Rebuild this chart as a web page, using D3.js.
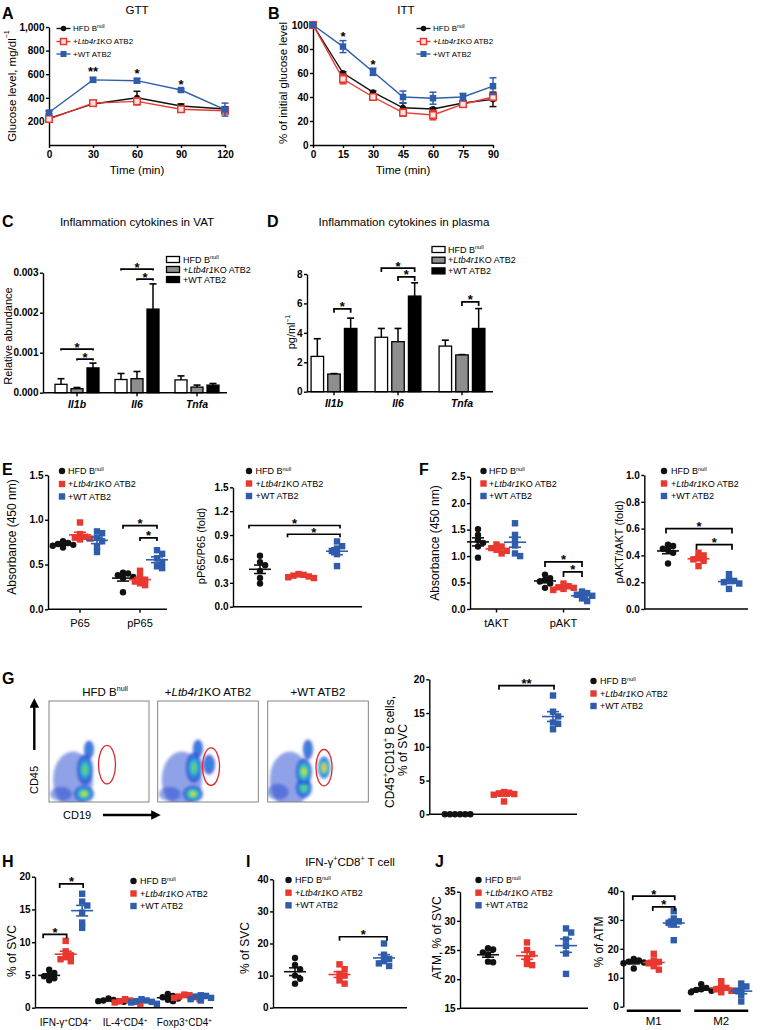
<!DOCTYPE html>
<html><head><meta charset="utf-8">
<script src="https://cdn.jsdelivr.net/npm/d3@7"></script>
<style>body{margin:0;background:#fff} svg{display:block}</style>
</head><body>
<svg id="fig" width="765" height="1030"></svg>
<script>
// ---------------- DATA ----------------
const groupColors = ["#111111", "#e8382f", "#2f5dab"];
const legendLabels = [
  [{t:"HFD B"},{t:"null",sup:true}],
  [{t:"+"},{t:"Ltb4r1",it:true},{t:"KO ATB2"}],
  [{t:"+WT ATB2"}]
];
// A: GTT
const gttTime = [0,30,60,90,120];
const gttTicksY = [200,400,600,800,1000];
const gttHFD = [226,348,400,330,305], gttHFDErr = [12,15,55,18,20];
const gttKO  = [220,355,370,303,290], gttKOErr  = [15,18,30,12,15];
const gttWT  = [275,552,545,466,300], gttWTErr  = [12,20,18,10,55];
const gttStarTime = [30,60,90], gttStarLabel = ["**","*","*"], gttStarLevel = [650,630,542];
// B: ITT
const ittTime = [0,15,30,45,60,75,90];
const ittTicksY = [0,20,40,60,80,100];
const ittHFD = [100,60,44,31,30,35,38], ittHFDErr = [0,1,1,4,1,2,6];
const ittKO  = [100,55,40,27,25,34,40], ittKOErr  = [0,4,2,3,4,2,3];
const ittWT  = [100,82,61,40,39,40,49], ittWTErr  = [0,5,3,5,5,3,7];
const ittStarTime = [15,30], ittStarLevel = [93,70];
// C: cytokines in VAT
const cytokines = ["Il1b","Il6","Tnfa"];
const vatTicks = [0,0.001,0.002,0.003];
const vatHFD = [0.00021,0.00033,0.00032], vatHFDErr = [0.00014,0.00015,0.00010];
const vatKO  = [0.00010,0.00035,0.00014], vatKOErr  = [0.00003,0.00018,0.00005];
const vatWT  = [0.00062,0.00209,0.00019], vatWTErr  = [0.00012,0.00063,0.00004];
const vatBrackets = [["Il1b",0,2,0.00109],["Il1b",1,2,0.00084],["Il6",0,2,0.00309],["Il6",1,2,0.00284]];
// D: cytokines in plasma
const plasmaTicks = [0,2,4,6,8];
const plasmaHFD = [2.4,3.7,3.1], plasmaHFDErr = [1.2,0.6,0.4];
const plasmaKO  = [1.2,3.4,2.5], plasmaKOErr  = [0.03,0.9,0.02];
const plasmaWT  = [4.3,6.5,4.3], plasmaWTErr  = [0.7,0.9,1.35];
const plasmaBrackets = [["Il1b",1,2,5.63],["Il6",0,2,8.4],["Il6",1,2,7.8],["Tnfa",1,2,6.1]];
// E
const eCats = ["P65","pP65"];
const absTicksE = [0,0.5,1.0,1.5];
const p65HFD = [0.76,0.74,0.73,0.72,0.71,0.69];
const p65KO  = [0.97,0.84,0.81,0.80,0.79,0.78];
const p65WT  = [0.87,0.85,0.80,0.76,0.70,0.64];
const pp65HFD = [0.41,0.40,0.38,0.36,0.35,0.19];
const pp65KO  = [0.43,0.36,0.33,0.31,0.29,0.27];
const pp65WT  = [0.66,0.62,0.57,0.53,0.48,0.46];
const eBrackets = [["pP65",0,2,0.934],["pP65",1,2,0.797]];
const ratioTicksE = [0,0.3,0.6,0.9,1.2,1.5];
const p65RatioHFD = [0.64,0.56,0.52,0.45,0.36,0.29];
const p65RatioKO  = [0.41,0.40,0.39,0.38,0.37,0.36];
const p65RatioWT  = [0.82,0.76,0.73,0.70,0.66,0.51];
const e2Brackets = [[0,2,1.02],[1,2,0.91]];
// F
const fCats = ["tAKT","pAKT"];
const absTicksF = [0,0.5,1.0,1.5,2.0,2.5];
const taktHFD = [1.51,1.40,1.30,1.25,1.18,0.97];
const taktKO  = [1.22,1.18,1.15,1.12,1.10,1.05];
const taktWT  = [1.62,1.40,1.30,1.20,1.05,1.00];
const paktHFD = [0.65,0.58,0.55,0.52,0.48,0.40];
const paktKO  = [0.48,0.43,0.41,0.40,0.38,0.36];
const paktWT  = [0.33,0.30,0.27,0.25,0.20,0.15];
const fBrackets = [["pAKT",0,2,0.89],["pAKT",1,2,0.70]];
const ratioTicksF = [0,0.2,0.4,0.6,0.8,1.0];
const aktRatioHFD = [0.48,0.47,0.45,0.44,0.42,0.34];
const aktRatioKO  = [0.42,0.40,0.38,0.37,0.36,0.32];
const aktRatioWT  = [0.26,0.22,0.21,0.20,0.19,0.15];
const f2Brackets = [[0,2,0.60],[1,2,0.48]];
// G: flow clusters [CD19, CD45, spreadX, spreadY, densityLevel]
const flowTitles = [
  [{t:"HFD B"},{t:"null",sup:true}],
  [{t:"+"},{t:"Ltb4r1",it:true},{t:"KO ATB2"}],
  [{t:"+WT ATB2"}]
];
const flowHFD = [[24,22,20,28,0],[12,8,11,7,0],[35,8,10,8,4],[36,32,8,15,3],[40,52,5,9,1]];
const flowKO  = [[24,22,20,28,0],[12,8,11,7,0],[35,8,10,8,4],[36,34,8,15,3],[40,53,5,9,1],[51,37,6,10,1]];
const flowWT  = [[22,22,20,28,0],[10,10,11,8,0],[36,14,8,10,3],[36,30,8,13,4],[40,52,5,10,1],[56,34,6,11,5]];
const gates = [[58,37,8.5,19],[53,35,8.5,18.5],[56,34,8,18]];
// G right
const bcellTicks = [0,5,10,15,20];
const bcellHFD = [0,0,0,0,0,0];
const bcellKO  = [3.3,3.2,3.1,3.0,2.9,1.9];
const bcellWT  = [17.6,15.2,14.5,13.6,13.4,12.6];
// H
const hCats = ["IFN","IL4","Foxp3"];
const hCatLabels = [
  [{t:"IFN-γ"},{t:"+",sup:true},{t:"CD4"},{t:"+",sup:true}],
  [{t:"IL-4"},{t:"+",sup:true},{t:"CD4"},{t:"+",sup:true}],
  [{t:"Foxp3"},{t:"+",sup:true},{t:"CD4"},{t:"+",sup:true}]
];
const svcTicksH = [0,5,10,15,20];
const ifngHFD = [5.8,5.3,5.0,4.8,4.5,4.2];
const ifngKO  = [10.2,8.6,8.0,7.7,7.4,7.1];
const ifngWT  = [17.4,16.2,15.6,14.5,13.0,12.2];
const il4HFD = [1.4,1.2,1.1,1.0,1.0,0.9];
const il4KO  = [1.3,1.1,1.0,0.9,0.8,0.6];
const il4WT  = [1.3,1.1,1.0,0.9,0.8,0.6];
const foxp3HFD = [2.1,1.8,1.6,1.4,1.2,1.0];
const foxp3KO  = [2.0,1.9,1.7,1.6,1.5,1.3];
const foxp3WT  = [1.9,1.8,1.7,1.5,1.3,1.1];
const hBrackets = [["IFN",0,1,11.2],["IFN",1,2,18.9]];
// I
const svcTicksI = [0,10,20,30,40];
const cd8HFD = [15.5,13.3,12.0,10.0,9.0,7.5];
const cd8KO  = [13.5,12.0,10.5,10.0,8.5,7.5];
const cd8WT  = [20.0,16.5,15.2,14.5,13.8,13.0];
const iBrackets = [[1,2,22.1]];
// J
const atmTicks = [15,20,25,30,35];
const atmHFD = [25.3,25.1,24.6,24.2,23.0,22.9];
const atmKO  = [26.3,25.0,24.3,23.5,22.6,22.4];
const atmWT  = [28.7,28.0,26.8,25.7,24.4,20.9];
const mCats = ["M1","M2"];
const atmPctTicks = [0,10,20,30,40];
const m1HFD = [16.5,16.0,15.6,15.3,15.0,13.2];
const m1KO  = [18.3,16.0,15.5,15.0,14.0,12.8];
const m1WT  = [33.0,30.5,29.5,29.0,28.5,23.0];
const m2HFD = [7.8,6.5,6.0,5.8,5.5,5.0];
const m2KO  = [8.8,7.0,6.5,6.0,5.5,5.0];
const m2WT  = [8.0,7.0,6.0,5.5,4.0,1.8];
const jBrackets = [["M1",0,2,38.2],["M1",1,2,34.5]];

// ---------------- HELPERS ----------------
const FONT = '"Liberation Sans", Arial, Helvetica, sans-serif';
const svg = d3.select("#fig").attr("font-family", FONT);
const defs = svg.append("defs");
defs.append("filter").attr("id","blur").attr("x","-50%").attr("y","-50%").attr("width","200%").attr("height","200%")
  .append("feGaussianBlur").attr("stdDeviation",1.6);

function rich(t, parts, fs){
  let shift = 0;
  parts.forEach(p=>{
    const ts = t.append("tspan").text(p.t);
    const target = p.sup ? -fs*0.4 : 0;
    ts.attr("dy", target - shift); shift = target;
    if(p.sup) ts.attr("font-size", fs*0.62);
    if(p.it) ts.attr("font-style","italic");
  });
}
function txt(x,y,s,o={}){
  const fs = o.fs||10;
  const t = svg.append("text").attr("x",x).attr("y",y).attr("font-size",fs)
    .attr("text-anchor",o.anchor||"start").attr("fill","#000");
  if(o.bold) t.attr("font-weight","bold");
  if(o.italic) t.attr("font-style","italic");
  if(typeof s==="string") t.text(s); else rich(t,s,fs);
  return t;
}
function vtxt(x,y,s,fs){
  const t = svg.append("text").attr("transform",`translate(${x},${y}) rotate(-90)`)
    .attr("text-anchor","middle").attr("dominant-baseline","central").attr("font-size",fs).attr("fill","#000");
  if(typeof s==="string") t.text(s); else rich(t,s,fs);
  return t;
}
function letter(s,x,y){ txt(x,y,s,{fs:16,bold:true}); }
function styleAxis(g){
  g.selectAll("path.domain, line").attr("stroke","#000").attr("stroke-width",1.4);
  g.selectAll("text").attr("font-size",10).attr("font-weight","bold").attr("fill","#000").attr("font-family",FONT);
}
function yAxis(x, scale, ticks, fmt){
  const ax = d3.axisLeft(scale).tickValues(ticks).tickSize(3).tickPadding(1.5).tickSizeOuter(0);
  if(fmt) ax.tickFormat(d3.format(fmt));
  const g = svg.append("g").attr("transform",`translate(${x},0)`).call(ax);
  styleAxis(g); return g;
}
function hline(x0,x1,y,w=1.4){
  svg.append("line").attr("x1",x0).attr("x2",x1).attr("y1",y).attr("y2",y).attr("stroke","#000").attr("stroke-width",w);
}
function tickAt(x,y){ svg.append("line").attr("x1",x).attr("x2",x).attr("y1",y).attr("y2",y+3.5).attr("stroke","#000").attr("stroke-width",1.4); }
function marker(shape,x,y,color,open,size=6.4){
  if(shape==="circle"){
    svg.append("circle").attr("cx",x).attr("cy",y).attr("r",size/2).attr("fill",color);
  } else {
    svg.append("rect").attr("x",x-size/2).attr("y",y-size/2).attr("width",size).attr("height",size)
      .attr("fill",open?"#fde6e6":color).attr("stroke",open?color:"none").attr("stroke-width",open?1.5:0);
  }
}
function bracket(x1,x2,y,label="*",tick=4){
  svg.append("path").attr("d",`M${x1},${y+tick}V${y}H${x2}V${y+tick}`).attr("fill","none")
    .attr("stroke","#000").attr("stroke-width",1.7);
  txt((x1+x2)/2, y+2.5, label, {fs:13, bold:true, anchor:"middle"});
}
function star(x,yc,label){ txt(x, yc+7.5, label, {fs:13,bold:true,anchor:"middle"}); }
function swarm(values, yS, size){
  const idx = d3.range(values.length).sort((a,b)=>values[b]-values[a]);
  const placed=[], out=[]; const step=size*0.8;
  idx.forEach(i=>{
    const py=yS(values[i]); let dx=0;
    for(let t=0;t<30;t++){
      dx = t===0?0:(t%2?1:-1)*Math.ceil(t/2)*step;
      if(!placed.some(p=>Math.abs(p.y-py)<size*0.8 && Math.abs(p.x-dx)<step*0.99)) break;
    }
    placed.push({x:dx,y:py}); out[i]={x:dx,y:py};
  });
  return out;
}
function dotGroup(cx, yS, values, gi){
  const color = groupColors[gi], shape = gi===0?"circle":"square";
  const size = 6.4;
  swarm(values,yS,size).forEach(p=>marker(shape,cx+p.x,p.y,color,false,size));
  const m = d3.mean(values), se = (d3.deviation(values)||0)/Math.sqrt(values.length);
  const g = svg.append("g").attr("stroke",color).attr("stroke-width",1.6);
  g.append("line").attr("x1",cx-11).attr("x2",cx+11).attr("y1",yS(m)).attr("y2",yS(m));
  if(se>0){
    g.append("line").attr("x1",cx).attr("x2",cx).attr("y1",yS(m-se)).attr("y2",yS(m+se));
    [m-se,m+se].forEach(v=>g.append("line").attr("x1",cx-6).attr("x2",cx+6).attr("y1",yS(v)).attr("y2",yS(v)));
  }
}
function legend(type, mx, tx, rows, fs){
  rows.forEach((ry,gi)=>{
    const c = groupColors[gi];
    if(type==="line"){
      svg.append("line").attr("x1",mx-7).attr("x2",mx+7).attr("y1",ry).attr("y2",ry).attr("stroke",c).attr("stroke-width",1.4);
      marker(gi===0?"circle":"square", mx, ry, c, gi===1, gi===0?5.6:6);
    } else if(type==="bar"){
      const fills=["#fff","#8e8e8e","#000"];
      svg.append("rect").attr("x",mx-6.5).attr("y",ry-3).attr("width",13).attr("height",6)
        .attr("fill",fills[gi]).attr("stroke","#000").attr("stroke-width",1.3);
    } else {
      marker(gi===0?"circle":"square", mx, ry, c, false, 6.4);
    }
    txt(tx, ry+fs*0.35, legendLabels[gi], {fs});
  });
}
function lineSeries(xS,yS,xs,ys,errs,gi){
  const c = groupColors[gi];
  svg.append("path").datum(xs.map((x,i)=>[x,ys[i]]))
    .attr("d", d3.line().x(d=>xS(d[0])).y(d=>yS(d[1]))).attr("fill","none").attr("stroke",c).attr("stroke-width",1.4);
  xs.forEach((x,i)=>{
    if(errs[i]>0){
      const g = svg.append("g").attr("stroke",c).attr("stroke-width",1.5);
      const X=xS(x);
      g.append("line").attr("x1",X).attr("x2",X).attr("y1",yS(ys[i]-errs[i])).attr("y2",yS(ys[i]+errs[i]));
      [ys[i]-errs[i],ys[i]+errs[i]].forEach(v=>g.append("line").attr("x1",X-3.5).attr("x2",X+3.5).attr("y1",yS(v)).attr("y2",yS(v)));
    }
    marker(gi===0?"circle":"square", xS(x), yS(ys[i]), c, gi===1, gi===0?6:6.5);
  });
}
function bars(xS, inner, yS, series, errs){
  const fills=["#fff","#8e8e8e","#000"];
  series.forEach((vals,gi)=>{
    vals.forEach((v,ci)=>{
      const cx = xS(cytokines[ci])+xS.bandwidth()/2;
      const x0 = cx+inner(gi), w=inner.bandwidth(), xm=x0+w/2;
      const top=yS(v+errs[gi][ci]);
      svg.append("line").attr("x1",xm).attr("x2",xm).attr("y1",yS(v)).attr("y2",top).attr("stroke","#000").attr("stroke-width",1.5);
      svg.append("line").attr("x1",xm-3.5).attr("x2",xm+3.5).attr("y1",top).attr("y2",top).attr("stroke","#000").attr("stroke-width",1.6);
      svg.append("rect").attr("x",x0).attr("y",yS(v)).attr("width",w).attr("height",yS(0)-yS(v))
        .attr("fill",fills[gi]).attr("stroke","#000").attr("stroke-width",1.3);
    });
  });
}

// ---------------- PANEL A ----------------
letter("A",2,19);
txt(137,14,"GTT",{fs:11.6,anchor:"middle"});
const xA = d3.scaleLinear().domain([0,120]).range([49,225]);
const yA = d3.scaleLinear().domain([0,1000]).range([145,27]);
styleAxis(svg.append("g").attr("transform","translate(0,145)").call(d3.axisBottom(xA).tickValues(gttTime).tickSize(3).tickPadding(3).tickSizeOuter(0)));
yAxis(49,yA,gttTicksY);
lineSeries(xA,yA,gttTime,gttHFD,gttHFDErr,0);
lineSeries(xA,yA,gttTime,gttKO,gttKOErr,1);
lineSeries(xA,yA,gttTime,gttWT,gttWTErr,2);
gttStarTime.forEach((t,i)=>star(xA(t),yA(gttStarLevel[i]),gttStarLabel[i]));
txt(137,174,"Time (min)",{fs:11.5,anchor:"middle"});
vtxt(12,86,[{t:"Glucose level, mg/dl"},{t:"−1",sup:true}],11.5);
legend("line",63.5,73,[28.5,41.5,54],8);

// ---------------- PANEL B ----------------
letter("B",268,19);
txt(406,14,"ITT",{fs:11.6,anchor:"middle"});
const xB = d3.scaleLinear().domain([0,90]).range([313,493]);
const yB = d3.scaleLinear().domain([0,100]).range([145,25]);
styleAxis(svg.append("g").attr("transform","translate(0,145)").call(d3.axisBottom(xB).tickValues(ittTime).tickSize(3).tickPadding(3).tickSizeOuter(0)));
yAxis(313,yB,ittTicksY);
lineSeries(xB,yB,ittTime,ittHFD,ittHFDErr,0);
lineSeries(xB,yB,ittTime,ittKO,ittKOErr,1);
lineSeries(xB,yB,ittTime,ittWT,ittWTErr,2);
ittStarTime.forEach((t,i)=>star(xB(t),yB(ittStarLevel[i]),"*"));
txt(403,174,"Time (min)",{fs:11.5,anchor:"middle"});
vtxt(283,83,"% of initial glucose level",11.5);
legend("line",423.5,433,[28.5,41.5,54],8);

// ---------------- PANEL C ----------------
letter("C",2,227);
txt(137,226,"Inflammation cytokines in VAT",{fs:11.6,anchor:"middle"});
const xC = d3.scaleBand().domain(cytokines).range([47,227]);
const innerC = d3.scaleBand().domain([0,1,2]).range([-24,24]).paddingInner(0.25).paddingOuter(0.125);
const yC = d3.scaleLinear().domain([0,0.003]).range([392.7,272.7]);
bars(xC,innerC,yC,[vatHFD,vatKO,vatWT],[vatHFDErr,vatKOErr,vatWTErr]);
yAxis(43,yC,vatTicks,".3f");
hline(43,227,yC(0));
cytokines.forEach(c=>{const cx=xC(c)+xC.bandwidth()/2; tickAt(cx,yC(0)); txt(cx,408,c,{fs:10.5,italic:true,bold:true,anchor:"middle"});});
vatBrackets.forEach(b=>{const cx=xC(b[0])+xC.bandwidth()/2;
  bracket(cx+innerC(b[1])+innerC.bandwidth()/2, cx+innerC(b[2])+innerC.bandwidth()/2, yC(b[3]), "*", 1.5);});
vtxt(8,336,"Relative abundance",11);
legend("bar",173,183,[259.5,269.5,279.5],9);

// ---------------- PANEL D ----------------
letter("D",267,227);
txt(404,226,"Inflammation cytokines in plasma",{fs:11.6,anchor:"middle"});
const xD = d3.scaleBand().domain(cytokines).range([302,494]);
const innerD = d3.scaleBand().domain([0,1,2]).range([-25,25]).paddingInner(0.25).paddingOuter(0.125);
const yD = d3.scaleLinear().domain([0,8]).range([391.7,274]);
bars(xD,innerD,yD,[plasmaHFD,plasmaKO,plasmaWT],[plasmaHFDErr,plasmaKOErr,plasmaWTErr]);
yAxis(307,yD,plasmaTicks);
hline(307,493,yD(0));
cytokines.forEach(c=>{const cx=xD(c)+xD.bandwidth()/2; tickAt(cx,yD(0)); txt(cx,407,c,{fs:10.5,italic:true,bold:true,anchor:"middle"});});
plasmaBrackets.forEach(b=>{const cx=xD(b[0])+xD.bandwidth()/2;
  bracket(cx+innerD(b[1])+innerD.bandwidth()/2, cx+innerD(b[2])+innerD.bandwidth()/2, yD(b[3]), "*", 4);});
vtxt(291,332,[{t:"pg/ml"},{t:"−1",sup:true}],11);
legend("bar",438.5,448,[249.5,260.2,270.9],9);

// ---------------- PANEL E ----------------
letter("E",2,475);
const xE = d3.scaleBand().domain(eCats).range([50,170]);
const innerE = d3.scalePoint().domain([0,1,2]).range([-17,17]);
const yE = d3.scaleLinear().domain([0,1.5]).range([609.3,475]);
yAxis(48,yE,absTicksE,".1f");
hline(48,167,yE(0));
[[p65HFD,p65KO,p65WT],[pp65HFD,pp65KO,pp65WT]].forEach((set,ci)=>{
  const cx=xE(eCats[ci])+xE.bandwidth()/2;
  set.forEach((vals,gi)=>dotGroup(cx+innerE(gi),yE,vals,gi));
  tickAt(cx,yE(0));
  txt(cx,627,eCats[ci],{fs:11,anchor:"middle"});
});
eBrackets.forEach(b=>{const cx=xE(b[0])+xE.bandwidth()/2; bracket(cx+innerE(b[1]),cx+innerE(b[2]),yE(b[3]),"*",3);});
vtxt(12,537,"Absorbance (450 nm)",12);
legend("dot",62,68,[471,484,496.5],9);

const xE2 = d3.scalePoint().domain([0,1,2]).range([260,337]);
const yE2 = d3.scaleLinear().domain([0,1.5]).range([606.7,487.3]);
yAxis(233,yE2,ratioTicksE,".1f");
hline(233,362,yE2(0));
[p65RatioHFD,p65RatioKO,p65RatioWT].forEach((vals,gi)=>dotGroup(xE2(gi),yE2,vals,gi));
e2Brackets.forEach(b=>bracket(xE2(b[0])-11,xE2(b[1])+3,yE2(b[2]),"*",3));
vtxt(201,546,"pP65/P65 (fold)",11);
legend("dot",249,255.5,[471,483.5,496],9);

// ---------------- PANEL F ----------------
letter("F",419,475);
const xF = d3.scaleBand().domain(fCats).range([463,597]);
const innerF = d3.scalePoint().domain([0,1,2]).range([-18.5,18.5]);
const yF = d3.scaleLinear().domain([0,2.5]).range([609,476.7]);
yAxis(470,yF,absTicksF,".1f");
hline(470,590,yF(0));
[[taktHFD,taktKO,taktWT],[paktHFD,paktKO,paktWT]].forEach((set,ci)=>{
  const cx=xF(fCats[ci])+xF.bandwidth()/2;
  set.forEach((vals,gi)=>dotGroup(cx+innerF(gi),yF,vals,gi));
  tickAt(cx,yF(0));
  txt(cx,627,fCats[ci],{fs:11,anchor:"middle"});
});
fBrackets.forEach(b=>{const cx=xF(b[0])+xF.bandwidth()/2; bracket(cx+innerF(b[1]),cx+innerF(b[2]),yF(b[3]),"*",5);});
vtxt(435,543,"Absorbance (450 nm)",12);
legend("dot",483.5,489,[471,483.5,496],9);

const xF2 = d3.scalePoint().domain([0,1,2]).range([668,729]);
const yF2 = d3.scaleLinear().domain([0,1]).range([609,475]);
yAxis(644.3,yF2,ratioTicksF,".1f");
hline(644.3,748,yF2(0));
[aktRatioHFD,aktRatioKO,aktRatioWT].forEach((vals,gi)=>dotGroup(xF2(gi),yF2,vals,gi));
f2Brackets.forEach(b=>bracket(xF2(b[0])-2,xF2(b[1])+3,yF2(b[2]),"*",5));
vtxt(619,542,"pAKT/tAKT (fold)",11);
legend("dot",664,671,[471,483.5,496],9);

// ---------------- PANEL G ----------------
letter("G",2,684);
const jet = ["#2448d0","#2b86e0","#2fc4c9","#6fd25a","#dfe23a","#f5a020","#e23a1c"];
const boxes = [[49,149],[157.7,258.3],[267.7,368.3]];
[flowHFD,flowKO,flowWT].forEach((clusters,bi)=>{
  const [bx0,bx1]=boxes[bi], by0=701, by1=802;
  const fx = d3.scaleLinear().domain([0,100]).range([bx0,bx1]);
  const fy = d3.scaleLinear().domain([0,100]).range([by1,by0]);
  const cid = "clip"+bi;
  defs.append("clipPath").attr("id",cid).append("rect").attr("x",bx0).attr("y",by0).attr("width",bx1-bx0).attr("height",by1-by0);
  const g = svg.append("g").attr("clip-path",`url(#${cid})`).append("g").attr("filter","url(#blur)");
  clusters.forEach(c=>{
    const [cx,cy,sx,sy,lv]=c;
    for(let L=0; L<=lv; L++){
      const f = 1 - L/(lv+1.2);
      g.append("ellipse").attr("cx",fx(cx)).attr("cy",fy(cy))
        .attr("rx",fx(sx*f)-fx(0)).attr("ry",fy(0)-fy(sy*f))
        .attr("fill",jet[L]).attr("opacity",L===0?(lv===0?0.5:0.8):0.9);
    }
  });
  svg.append("rect").attr("x",bx0).attr("y",by0).attr("width",bx1-bx0).attr("height",by1-by0)
    .attr("fill","none").attr("stroke","#777").attr("stroke-width",0.9);
  const gt = gates[bi];
  svg.append("ellipse").attr("cx",fx(gt[0])).attr("cy",fy(gt[1])).attr("rx",fx(gt[2])-fx(0)).attr("ry",fy(0)-fy(gt[3]))
    .attr("fill","none").attr("stroke","#e0262a").attr("stroke-width",1.3);
  txt((bx0+bx1)/2+ (bi===0?6:0),696,flowTitles[bi],{fs:11.5,anchor:"middle"});
});
defs.append("marker").attr("id","arrow").attr("viewBox","0 0 10 10").attr("refX",5).attr("refY",5)
  .attr("markerWidth",4).attr("markerHeight",4).attr("orient","auto")
  .append("path").attr("d","M0,0L10,5L0,10z").attr("fill","#000");
svg.append("line").attr("x1",34.3).attr("x2",34.3).attr("y1",750).attr("y2",703).attr("stroke","#000").attr("stroke-width",2.4).attr("marker-end","url(#arrow)");
svg.append("line").attr("x1",103).attr("x2",156).attr("y1",815).attr("y2",815).attr("stroke","#000").attr("stroke-width",2.4).attr("marker-end","url(#arrow)");
vtxt(34,780,"CD45",11);
txt(63,819,"CD19",{fs:11});

const xG = d3.scalePoint().domain([0,1,2]).range([455,553]);
const yG = d3.scaleLinear().domain([0,20]).range([814.3,679.3]);
yAxis(429.3,yG,bcellTicks);
hline(429.3,577,yG(0));
[bcellHFD,bcellKO,bcellWT].forEach((vals,gi)=>dotGroup(xG(gi),yG,vals,gi));
bracket(xG(1)-5,xG(2)+1,yG(19.05),"**",4);
vtxt(390,752,[{t:"CD45"},{t:"+",sup:true},{t:"CD19"},{t:"+",sup:true},{t:" B cells,"}],12);
vtxt(403,750,"% of SVC",12);
legend("dot",593.5,600,[681,693.5,706],9);

// ---------------- PANEL H ----------------
letter("H",2,867);
const xH = d3.scaleBand().domain(hCats).range([36,214]);
const innerH = d3.scalePoint().domain([0,1,2]).range([-16.5,16.5]);
const yH = d3.scaleLinear().domain([0,20]).range([1007.7,876.7]);
yAxis(35,yH,svcTicksH);
hline(35,213,yH(0));
[[ifngHFD,ifngKO,ifngWT],[il4HFD,il4KO,il4WT],[foxp3HFD,foxp3KO,foxp3WT]].forEach((set,ci)=>{
  const cx=xH(hCats[ci])+xH.bandwidth()/2;
  set.forEach((vals,gi)=>dotGroup(cx+innerH(gi),yH,vals,gi));
  txt(cx,1026,hCatLabels[ci],{fs:10,anchor:"middle"});
});
hBrackets.forEach(b=>{const cx=xH(b[0])+xH.bandwidth()/2; bracket(cx+innerH(b[1])-6,cx+innerH(b[2])+1,yH(b[3]),"*",4);});
vtxt(12,951,"% of SVC",12);
legend("dot",133.5,140,[881,893.5,906],9);

// ---------------- PANEL I ----------------
letter("I",246,867);
txt(350,866,[{t:"IFN-γ"},{t:"+",sup:true},{t:"CD8"},{t:"+",sup:true},{t:" T cell"}],{fs:11.5,anchor:"middle"});
const xI = d3.scalePoint().domain([0,1,2]).range([295,384]);
const yI = d3.scaleLinear().domain([0,40]).range([1007.7,879.3]);
yAxis(273,yI,svcTicksI);
hline(273,407,yI(0));
[cd8HFD,cd8KO,cd8WT].forEach((vals,gi)=>dotGroup(xI(gi),yI,vals,gi));
iBrackets.forEach(b=>bracket(xI(b[0]),xI(b[1])+3,yI(b[2]),"*",4));
vtxt(245,948,"% of SVC",12);
legend("dot",288.5,295,[880,892.7,905.3],9);

// ---------------- PANEL J ----------------
letter("J",435,867);
const xJ = d3.scalePoint().domain([0,1,2]).range([488,566]);
const yJ = d3.scaleLinear().domain([15,35]).range([1008.3,891.7]);
yAxis(460,yJ,atmTicks);
hline(460,588,yJ(15));
[atmHFD,atmKO,atmWT].forEach((vals,gi)=>dotGroup(xJ(gi),yJ,vals,gi));
vtxt(437,938,"ATM, % of SVC",12);
legend("dot",478.5,485,[880,892.7,905.3],9);

const xJ2 = d3.scaleBand().domain(mCats).range([620,755]).paddingInner(0.2).paddingOuter(0.1);
const innerJ = d3.scalePoint().domain([0,1,2]).range([-20,20]);
const yJ2 = d3.scaleLinear().domain([0,40]).range([1006.7,891]);
yAxis(623.3,yJ2,atmPctTicks);
[[m1HFD,m1KO,m1WT],[m2HFD,m2KO,m2WT]].forEach((set,ci)=>{
  const x0=xJ2(mCats[ci]), cx=x0+xJ2.bandwidth()/2;
  set.forEach((vals,gi)=>dotGroup(cx+innerJ(gi),yJ2,vals,gi));
  hline(x0,x0+xJ2.bandwidth(),1010.7,2.6);
  txt(cx,1025,mCats[ci],{fs:11.5,anchor:"middle"});
});
jBrackets.forEach(b=>{const cx=xJ2(b[0])+xJ2.bandwidth()/2; bracket(cx+innerJ(b[1])-1,cx+innerJ(b[2])+1,yJ2(b[3]),"*",4);});
vtxt(599,942,"% of ATM",12);
</script>
</body></html>
